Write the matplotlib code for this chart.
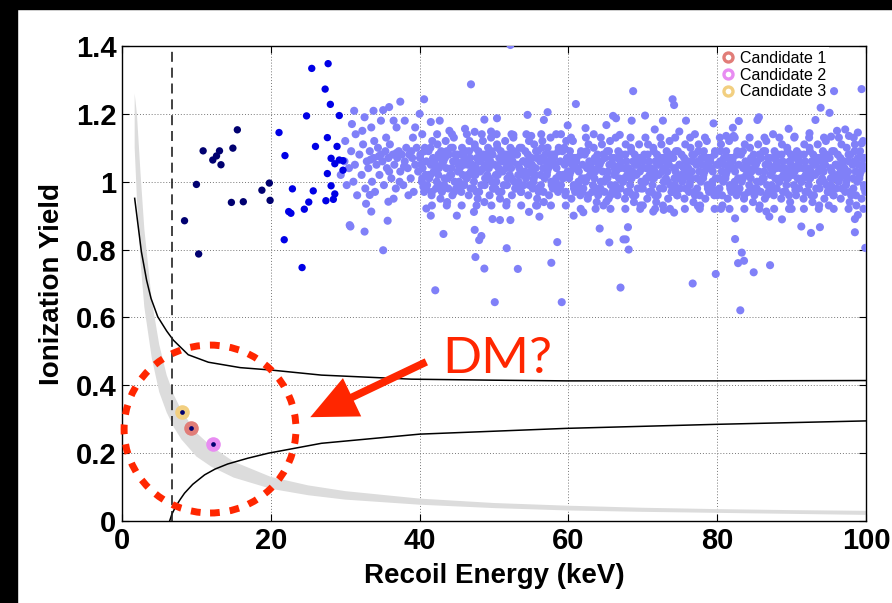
import numpy as np
import matplotlib.pyplot as plt
from matplotlib.patches import Ellipse, Rectangle, FancyArrowPatch
from matplotlib.lines import Line2D

plt.rcParams['font.family'] = ['Liberation Sans', 'DejaVu Sans']

# --- electron-recoil band (light blue) ---
light_pts = [
    # 29-40 keV, sparser part of the band
    (29.4,1.02),(29.9,1.06),(30.2,0.99),(30.5,1.04),(30.8,1.09),(31.1,1.00),(31.3,1.05),(31.6,0.96),
    (31.9,1.08),(32.2,1.02),(32.4,1.11),(32.7,0.98),(32.9,1.06),(30.0,1.12),(31.4,1.14),
    (33.1,1.04),(33.3,1.09),(33.6,1.00),(33.8,1.07),(34.0,0.97),(34.2,1.05),(34.4,1.10),(34.6,1.02),
    (34.8,1.08),(35.0,1.06),(35.2,0.99),(35.4,1.09),(35.6,1.04),(35.8,1.07),(36.0,1.11),(36.2,1.01),
    (36.4,1.08),(36.6,1.05),(36.8,0.98),(37.0,1.07),(37.2,1.09),(37.4,1.03),(37.6,1.08),(37.8,0.99),
    (38.0,1.06),(38.2,1.10),(38.4,1.04),(38.6,1.08),(38.8,1.01),(39.0,1.07),(39.2,0.97),(39.4,1.05),
    (39.6,1.10),(39.8,1.03),(37.3,1.00),(38.5,0.96),(39.1,1.13),(36.5,0.95),(35.5,1.13),(33.9,1.12),
    (34.5,1.075),(36.9,1.085),(38.9,1.09),(35.9,1.03),(33.4,1.065),(37.9,1.045),
    # 40-100 keV, dense core
    (40.1,1.08),(40.3,1.00),(40.4,1.04),(40.6,0.97),(40.7,1.10),(40.8,1.02),(40.9,1.06),(40.2,1.05),(40.5,0.985),(40.35,1.14),
    (41.0,0.99),(41.2,1.09),(41.3,1.01),(41.5,1.05),(41.6,0.96),(41.8,1.07),(41.9,1.03),(41.45,1.02),(41.7,1.12),(41.65,0.93),
    (42.1,1.05),(42.2,0.98),(42.4,1.11),(42.5,1.02),(42.7,1.07),(42.8,0.95),(42.9,1.09),(42.3,1.00),(42.6,1.04),(42.35,1.14),
    (43.0,0.97),(43.2,1.06),(43.3,0.99),(43.5,1.12),(43.6,1.04),(43.8,1.01),(43.9,1.08),(43.4,1.07),(43.7,0.94),(43.65,0.93),
    (44.1,1.02),(44.2,1.10),(44.4,0.96),(44.5,1.06),(44.7,1.00),(44.8,1.08),(44.9,0.98),(44.3,1.04),(44.6,1.13),(44.35,1.14),
    (45.1,1.08),(45.3,1.00),(45.4,1.04),(45.6,0.97),(45.7,1.10),(45.8,1.02),(45.9,1.06),(45.2,1.05),(45.5,0.985),(45.65,0.93),
    (46.0,0.99),(46.2,1.09),(46.3,1.01),(46.5,1.05),(46.6,0.96),(46.8,1.07),(46.9,1.03),(46.45,1.02),(46.7,1.12),(46.35,1.14),
    (47.1,1.05),(47.2,0.98),(47.4,1.11),(47.5,1.02),(47.7,1.07),(47.8,0.95),(47.9,1.09),(47.3,1.00),(47.6,1.04),(47.65,0.93),
    (48.0,0.97),(48.2,1.06),(48.3,0.99),(48.5,1.12),(48.6,1.04),(48.8,1.01),(48.9,1.08),(48.4,1.07),(48.7,0.94),(48.35,1.14),
    (49.1,1.02),(49.2,1.10),(49.4,0.96),(49.5,1.06),(49.7,1.00),(49.8,1.08),(49.9,0.98),(49.3,1.04),(49.6,1.13),(49.65,0.93),
    (50.1,1.05),(50.2,0.98),(50.4,1.11),(50.5,1.02),(50.7,1.07),(50.8,0.95),(50.9,1.09),(50.3,1.00),(50.6,1.04),(50.35,1.14),
    (51.0,0.97),(51.2,1.06),(51.3,0.99),(51.5,1.12),(51.6,1.04),(51.8,1.01),(51.9,1.08),(51.4,1.07),(51.7,0.94),(51.65,0.93),
    (52.1,1.02),(52.2,1.10),(52.4,0.96),(52.5,1.06),(52.7,1.00),(52.8,1.08),(52.9,0.98),(52.3,1.04),(52.6,1.13),(52.35,1.14),
    (53.1,1.08),(53.3,1.00),(53.4,1.04),(53.6,0.97),(53.7,1.10),(53.8,1.02),(53.9,1.06),(53.2,1.05),(53.5,0.985),(53.65,0.93),
    (54.0,0.99),(54.2,1.09),(54.3,1.01),(54.5,1.05),(54.6,0.96),(54.8,1.07),(54.9,1.03),(54.45,1.02),(54.7,1.12),(54.35,1.14),
    (55.1,1.05),(55.2,0.98),(55.4,1.11),(55.5,1.02),(55.7,1.07),(55.8,0.95),(55.9,1.09),(55.3,1.00),(55.6,1.04),(55.65,0.93),
    (56.0,0.97),(56.2,1.06),(56.3,0.99),(56.5,1.12),(56.6,1.04),(56.8,1.01),(56.9,1.08),(56.4,1.07),(56.7,0.94),(56.35,1.14),
    (57.1,1.02),(57.2,1.10),(57.4,0.96),(57.5,1.06),(57.7,1.00),(57.8,1.08),(57.9,0.98),(57.3,1.04),(57.6,1.13),(57.65,0.93),
    (58.1,1.08),(58.3,1.00),(58.4,1.04),(58.6,0.97),(58.7,1.10),(58.8,1.02),(58.9,1.06),(58.2,1.05),(58.5,0.985),(58.35,1.14),
    (59.0,0.99),(59.2,1.09),(59.3,1.01),(59.5,1.05),(59.6,0.96),(59.8,1.07),(59.9,1.03),(59.45,1.02),(59.7,1.12),(59.65,0.93),
    (60.1,1.01),(60.2,1.09),(60.4,0.95),(60.5,1.05),(60.7,0.99),(60.8,1.07),(60.9,0.97),(60.3,1.03),(60.6,1.12),(60.35,1.13),
    (61.1,1.07),(61.3,0.99),(61.4,1.03),(61.6,0.96),(61.7,1.09),(61.8,1.01),(61.9,1.05),(61.2,1.04),(61.5,0.975),(61.65,0.92),
    (62.0,0.98),(62.2,1.08),(62.3,1.00),(62.5,1.04),(62.6,0.95),(62.8,1.06),(62.9,1.02),(62.45,1.01),(62.7,1.11),(62.35,1.13),
    (63.1,1.04),(63.2,0.97),(63.4,1.10),(63.5,1.01),(63.7,1.06),(63.8,0.94),(63.9,1.08),(63.3,0.99),(63.6,1.03),(63.65,0.92),
    (64.0,0.96),(64.2,1.05),(64.3,0.98),(64.5,1.11),(64.6,1.03),(64.8,1.00),(64.9,1.07),(64.4,1.06),(64.7,0.93),(64.35,1.13),
    (65.1,1.01),(65.2,1.09),(65.4,0.95),(65.5,1.05),(65.7,0.99),(65.8,1.07),(65.9,0.97),(65.3,1.03),(65.6,1.12),(65.65,0.92),
    (66.1,1.07),(66.3,0.99),(66.4,1.03),(66.6,0.96),(66.7,1.09),(66.8,1.01),(66.9,1.05),(66.2,1.04),(66.5,0.975),(66.35,1.13),
    (67.0,0.98),(67.2,1.08),(67.3,1.00),(67.5,1.04),(67.6,0.95),(67.8,1.06),(67.9,1.02),(67.45,1.01),(67.7,1.11),(67.65,0.92),
    (68.1,1.04),(68.2,0.97),(68.4,1.10),(68.5,1.01),(68.7,1.06),(68.8,0.94),(68.9,1.08),(68.3,0.99),(68.6,1.03),(68.35,1.13),
    (69.0,0.96),(69.2,1.05),(69.3,0.98),(69.5,1.11),(69.6,1.03),(69.8,1.00),(69.9,1.07),(69.4,1.06),(69.7,0.93),(69.65,0.92),
    (70.0,0.98),(70.2,1.08),(70.3,1.00),(70.5,1.04),(70.6,0.95),(70.8,1.06),(70.9,1.02),(70.45,1.01),(70.7,1.11),(70.35,1.13),
    (71.1,1.04),(71.2,0.97),(71.4,1.10),(71.5,1.01),(71.7,1.06),(71.8,0.94),(71.9,1.08),(71.3,0.99),(71.6,1.03),(71.65,0.92),
    (72.0,0.96),(72.2,1.05),(72.3,0.98),(72.5,1.11),(72.6,1.03),(72.8,1.00),(72.9,1.07),(72.4,1.06),(72.7,0.93),(72.35,1.13),
    (73.1,1.01),(73.2,1.09),(73.4,0.95),(73.5,1.05),(73.7,0.99),(73.8,1.07),(73.9,0.97),(73.3,1.03),(73.6,1.12),(73.65,0.92),
    (74.1,1.07),(74.3,0.99),(74.4,1.03),(74.6,0.96),(74.7,1.09),(74.8,1.01),(74.9,1.05),(74.2,1.04),(74.5,0.975),(74.35,1.13),
    (75.0,0.98),(75.2,1.08),(75.3,1.00),(75.5,1.04),(75.6,0.95),(75.8,1.06),(75.9,1.02),(75.45,1.01),(75.7,1.11),(75.65,0.92),
    (76.1,1.04),(76.2,0.97),(76.4,1.10),(76.5,1.01),(76.7,1.06),(76.8,0.94),(76.9,1.08),(76.3,0.99),(76.6,1.03),(76.35,1.13),
    (77.0,0.96),(77.2,1.05),(77.3,0.98),(77.5,1.11),(77.6,1.03),(77.8,1.00),(77.9,1.07),(77.4,1.06),(77.7,0.93),(77.65,0.92),
    (78.1,1.01),(78.2,1.09),(78.4,0.95),(78.5,1.05),(78.7,0.99),(78.8,1.07),(78.9,0.97),(78.3,1.03),(78.6,1.12),(78.35,1.13),
    (79.1,1.07),(79.3,0.99),(79.4,1.03),(79.6,0.96),(79.7,1.09),(79.8,1.01),(79.9,1.05),(79.2,1.04),(79.5,0.975),(79.65,0.92),
    (80.0,0.96),(80.2,1.05),(80.3,0.98),(80.5,1.11),(80.6,1.03),(80.8,1.00),(80.9,1.07),(80.4,1.06),(80.7,0.93),(80.35,1.13),
    (81.1,1.01),(81.2,1.09),(81.4,0.95),(81.5,1.05),(81.7,0.99),(81.8,1.07),(81.9,0.97),(81.3,1.03),(81.6,1.12),(81.65,0.92),
    (82.1,1.07),(82.3,0.99),(82.4,1.03),(82.6,0.96),(82.7,1.09),(82.8,1.01),(82.9,1.05),(82.2,1.04),(82.5,0.975),(82.35,1.13),
    (83.0,0.98),(83.2,1.08),(83.3,1.00),(83.5,1.04),(83.6,0.95),(83.8,1.06),(83.9,1.02),(83.45,1.01),(83.7,1.11),(83.65,0.92),
    (84.1,1.04),(84.2,0.97),(84.4,1.10),(84.5,1.01),(84.7,1.06),(84.8,0.94),(84.9,1.08),(84.3,0.99),(84.6,1.03),(84.35,1.13),
    (85.0,0.96),(85.2,1.05),(85.3,0.98),(85.5,1.11),(85.6,1.03),(85.8,1.00),(85.9,1.07),(85.4,1.06),(85.7,0.93),(85.65,0.92),
    (86.1,1.01),(86.2,1.09),(86.4,0.95),(86.5,1.05),(86.7,0.99),(86.8,1.07),(86.9,0.97),(86.3,1.03),(86.6,1.12),(86.35,1.13),
    (87.1,1.07),(87.3,0.99),(87.4,1.03),(87.6,0.96),(87.7,1.09),(87.8,1.01),(87.9,1.05),(87.2,1.04),(87.5,0.975),(87.65,0.92),
    (88.0,0.98),(88.2,1.08),(88.3,1.00),(88.5,1.04),(88.6,0.95),(88.8,1.06),(88.9,1.02),(88.45,1.01),(88.7,1.11),(88.35,1.13),
    (89.1,1.04),(89.2,0.97),(89.4,1.10),(89.5,1.01),(89.7,1.06),(89.8,0.94),(89.9,1.08),(89.3,0.99),(89.6,1.03),(89.65,0.92),
    (90.1,1.07),(90.3,0.99),(90.4,1.03),(90.6,0.96),(90.7,1.09),(90.8,1.01),(90.9,1.05),(90.2,1.04),(90.5,0.975),(90.35,1.13),
    (91.0,0.98),(91.2,1.08),(91.3,1.00),(91.5,1.04),(91.6,0.95),(91.8,1.06),(91.9,1.02),(91.45,1.01),(91.7,1.11),(91.65,0.92),
    (92.1,1.04),(92.2,0.97),(92.4,1.10),(92.5,1.01),(92.7,1.06),(92.8,0.94),(92.9,1.08),(92.3,0.99),(92.6,1.03),(92.35,1.13),
    (93.0,0.96),(93.2,1.05),(93.3,0.98),(93.5,1.11),(93.6,1.03),(93.8,1.00),(93.9,1.07),(93.4,1.06),(93.7,0.93),(93.65,0.92),
    (94.1,1.01),(94.2,1.09),(94.4,0.95),(94.5,1.05),(94.7,0.99),(94.8,1.07),(94.9,0.97),(94.3,1.03),(94.6,1.12),(94.35,1.13),
    (95.1,1.07),(95.3,0.99),(95.4,1.03),(95.6,0.96),(95.7,1.09),(95.8,1.01),(95.9,1.05),(95.2,1.04),(95.5,0.975),(95.65,0.92),
    (96.0,0.98),(96.2,1.08),(96.3,1.00),(96.5,1.04),(96.6,0.95),(96.8,1.06),(96.9,1.02),(96.45,1.01),(96.7,1.11),(96.35,1.13),
    (97.1,1.04),(97.2,0.97),(97.4,1.10),(97.5,1.01),(97.7,1.06),(97.8,0.94),(97.9,1.08),(97.3,0.99),(97.6,1.03),(97.65,0.92),
    (98.0,0.96),(98.2,1.05),(98.3,0.98),(98.5,1.11),(98.6,1.03),(98.8,1.00),(98.9,1.07),(98.4,1.06),(98.7,0.93),(98.35,1.13),
    (99.1,1.01),(99.2,1.09),(99.4,0.95),(99.5,1.05),(99.7,0.99),(99.8,1.07),(99.9,0.97),(99.3,1.03),(99.6,1.12),(99.65,0.92),
    # outliers above the band
    (52.2,1.403),(46.9,1.287),(40.6,1.243),(37.4,1.236),(35.9,1.220),(35.1,1.211),(33.8,1.209),(31.2,1.209),
    (32.6,1.190),(30.9,1.170),(32.3,1.150),(33.5,1.16),(34.8,1.18),(36.5,1.18),(36.9,1.16),(38.0,1.18),
    (39.4,1.160),(40.0,1.20),(41.5,1.176),(42.7,1.180),(46.1,1.156),(47.4,1.147),(48.7,1.183),(49.6,1.148),
    (50.4,1.187),(52.6,1.138),(54.5,1.197),(55.0,1.135),(56.7,1.182),(57.2,1.205),(59.9,1.166),(61.0,1.229),
    (62.3,1.158),(63.4,1.140),(65.1,1.167),(66.0,1.194),(66.4,1.187),(66.9,1.138),(68.5,1.180),(68.7,1.267),
    (70.3,1.195),(71.6,1.154),(72.7,1.180),(74.0,1.243),(74.2,1.226),(74.9,1.148),(75.8,1.180),(79.5,1.172),
    (81.2,1.135),(82.1,1.159),(82.2,1.135),(82.9,1.179),(85.4,1.182),(85.6,1.19),(89.6,1.156),(90.4,1.133),
    (92.4,1.143),(93.2,1.182),(93.9,1.218),(95.1,1.203),(95.3,1.133),(95.7,1.267),(96.1,1.150),(97.2,1.154),
    (97.7,1.135),(98.9,1.145),(99.4,1.273),(99.4,1.113),(87.5,1.14),(77.0,1.14),(59.0,1.14),(44.0,1.15),
    # outliers below the band
    (30.6,0.872),(30.7,0.868),(32.6,0.853),(33.5,0.912),(32.8,0.935),(35.1,0.798),(35.7,0.885),(35.8,0.941),
    (33.3,0.961),(41.5,0.900),(40.9,0.921),(43.2,0.846),(42.1,0.680),(47.4,0.858),(48.3,0.840),(48.0,0.828),
    (47.5,0.778),(48.7,0.744),(50.1,0.645),(51.7,0.804),(53.2,0.743),(49.8,0.890),(50.8,0.887),(52.2,0.887),
    (47.3,0.911),(54.7,0.911),(56.1,0.897),(57.7,0.761),(59.1,0.645),(58.5,0.822),(60.7,0.900),(64.2,0.862),
    (65.5,0.821),(65.1,0.941),(68.0,0.866),(67.4,0.830),(67.7,0.830),(68.1,0.800),(67.0,0.688),(76.7,0.700),
    (79.8,0.728),(83.1,0.621),(82.8,0.760),(83.6,0.767),(83.3,0.791),(84.9,0.733),(87.1,0.754),(82.4,0.831),
    (82.4,0.892),(86.6,0.912),(87.0,0.897),(88.7,0.889),(91.3,0.868),(92.6,0.849),(93.8,0.866),(98.5,0.851),
    (98.5,0.890),(98.9,0.902),(99.9,0.805),(74.2,0.909),(71.4,0.912),(72.8,0.917),(77.4,0.928),(45.0,0.90),
    (55.8,0.93),(62.0,0.91),(70.0,0.93),(80.5,0.92),(90.0,0.92),(95.0,0.93),
]

# extra points in the solid middle of the band
core_pts = [
    (40.05,1.07),(40.35,1.01),(40.65,1.09),(40.85,0.98),(41.25,1.02),(41.45,1.10),(41.65,0.97),(41.95,1.06),
    (42.15,1.03),(42.55,1.08),(42.75,0.99),(42.95,1.05),(43.05,1.07),(43.35,1.01),(43.65,1.09),(43.85,0.98),
    (44.25,1.02),(44.45,1.10),(44.65,0.97),(44.95,1.06),(45.15,1.03),(45.55,1.08),(45.75,0.99),(45.95,1.05),
    (46.05,1.07),(46.35,1.01),(46.65,1.09),(46.85,0.98),(47.25,1.02),(47.45,1.10),(47.65,0.97),(47.95,1.06),
    (48.15,1.03),(48.55,1.08),(48.75,0.99),(48.95,1.05),(49.05,1.07),(49.35,1.01),(49.65,1.09),(49.85,0.98),
    (50.25,1.02),(50.45,1.10),(50.65,0.97),(50.95,1.06),(51.15,1.03),(51.55,1.08),(51.75,0.99),(51.95,1.05),
    (52.05,1.07),(52.35,1.01),(52.65,1.09),(52.85,0.98),(53.25,1.02),(53.45,1.10),(53.65,0.97),(53.95,1.06),
    (54.15,1.03),(54.55,1.08),(54.75,0.99),(54.95,1.05),(55.05,1.07),(55.35,1.01),(55.65,1.09),(55.85,0.98),
    (56.25,1.02),(56.45,1.10),(56.65,0.97),(56.95,1.06),(57.15,1.03),(57.55,1.08),(57.75,0.99),(57.95,1.05),
    (58.05,1.07),(58.35,1.01),(58.65,1.09),(58.85,0.98),(59.25,1.02),(59.45,1.10),(59.65,0.97),(59.95,1.06),
    (60.15,1.02),(60.55,1.07),(60.75,0.98),(60.95,1.04),(61.05,1.06),(61.35,1.00),(61.65,1.08),(61.85,0.97),
    (62.25,1.01),(62.45,1.09),(62.65,0.96),(62.95,1.05),(63.15,1.02),(63.55,1.07),(63.75,0.98),(63.95,1.04),
    (64.05,1.06),(64.35,1.00),(64.65,1.08),(64.85,0.97),(65.25,1.01),(65.45,1.09),(65.65,0.96),(65.95,1.05),
    (66.15,1.02),(66.55,1.07),(66.75,0.98),(66.95,1.04),(67.05,1.06),(67.35,1.00),(67.65,1.08),(67.85,0.97),
    (68.25,1.01),(68.45,1.09),(68.65,0.96),(68.95,1.05),(69.15,1.02),(69.55,1.07),(69.75,0.98),(69.95,1.04),
    (70.05,1.06),(70.35,1.00),(70.65,1.08),(70.85,0.97),(71.25,1.01),(71.45,1.09),(71.65,0.96),(71.95,1.05),
    (72.15,1.02),(72.55,1.07),(72.75,0.98),(72.95,1.04),(73.05,1.06),(73.35,1.00),(73.65,1.08),(73.85,0.97),
    (74.25,1.01),(74.45,1.09),(74.65,0.96),(74.95,1.05),(75.15,1.02),(75.55,1.07),(75.75,0.98),(75.95,1.04),
    (76.05,1.06),(76.35,1.00),(76.65,1.08),(76.85,0.97),(77.25,1.01),(77.45,1.09),(77.65,0.96),(77.95,1.05),
    (78.15,1.02),(78.55,1.07),(78.75,0.98),(78.95,1.04),(79.05,1.06),(79.35,1.00),(79.65,1.08),(79.85,0.97),
    (80.25,1.01),(80.45,1.09),(80.65,0.96),(80.95,1.05),(81.15,1.02),(81.55,1.07),(81.75,0.98),(81.95,1.04),
    (82.05,1.06),(82.35,1.00),(82.65,1.08),(82.85,0.97),(83.25,1.01),(83.45,1.09),(83.65,0.96),(83.95,1.05),
    (84.15,1.02),(84.55,1.07),(84.75,0.98),(84.95,1.04),(85.05,1.06),(85.35,1.00),(85.65,1.08),(85.85,0.97),
    (86.25,1.01),(86.45,1.09),(86.65,0.96),(86.95,1.05),(87.15,1.02),(87.55,1.07),(87.75,0.98),(87.95,1.04),
    (88.05,1.06),(88.35,1.00),(88.65,1.08),(88.85,0.97),(89.25,1.01),(89.45,1.09),(89.65,0.96),(89.95,1.05),
    (90.15,1.02),(90.55,1.07),(90.75,0.98),(90.95,1.04),(91.05,1.06),(91.35,1.00),(91.65,1.08),(91.85,0.97),
    (92.25,1.01),(92.45,1.09),(92.65,0.96),(92.95,1.05),(93.15,1.02),(93.55,1.07),(93.75,0.98),(93.95,1.04),
    (94.05,1.06),(94.35,1.00),(94.65,1.08),(94.85,0.97),(95.25,1.01),(95.45,1.09),(95.65,0.96),(95.95,1.05),
    (96.15,1.02),(96.55,1.07),(96.75,0.98),(96.95,1.04),(97.05,1.06),(97.35,1.00),(97.65,1.08),(97.85,0.97),
    (98.25,1.01),(98.45,1.09),(98.65,0.96),(98.95,1.05),(99.15,1.02),(99.55,1.07),(99.75,0.98),(99.95,1.04),
]

blue_x = [21.1, 21.9, 21.8, 22.9, 22.4, 22.7, 24.2, 24.5, 24.8, 25.1, 25.5, 25.7, 26.0, 27.3, 27.7,
          28.0, 27.6, 28.9, 29.2, 27.6, 28.1, 28.6, 28.1, 28.6, 28.4, 27.4, 29.2, 29.7, 29.7]
blue_y = [1.145, 1.077, 0.829, 0.979, 0.912, 0.907, 0.747, 0.919, 1.194, 0.940, 1.334, 0.973, 1.104, 1.273, 1.348,
          1.228, 1.130, 1.104, 1.195, 1.024, 1.069, 1.053, 0.988, 0.964, 0.948, 0.944, 1.064, 1.062, 1.034]

navy_x = [8.4, 10.3, 10.0, 10.9, 12.2, 12.7, 13.1, 13.3, 14.9, 15.5, 14.7, 16.3, 18.8, 19.8, 19.9]
navy_y = [0.885, 0.787, 0.992, 1.091, 1.064, 1.076, 1.091, 1.050, 1.099, 1.153, 0.939, 0.941, 0.975, 0.996, 0.945]

cand_x = [9.3, 12.2, 8.06]
cand_y = [0.274, 0.228, 0.321]
cand_labels = ['Candidate 1', 'Candidate 2', 'Candidate 3']
cand_colors = ['#e17d78', '#e88cf2', '#f2cf80']

# nuclear-recoil band edges
upper_x = [1.7, 2.6, 3.3, 3.9, 4.8, 6.0, 6.9, 8.9, 11.6, 15.9, 20.0, 26.8, 38.9, 50.0, 59.7, 80.0, 100.0]
upper_y = [0.951, 0.794, 0.710, 0.656, 0.602, 0.560, 0.533, 0.490, 0.468, 0.452, 0.445, 0.430, 0.418, 0.415, 0.413, 0.413, 0.414]
lower_x = [6.4, 6.7, 7.2, 7.8, 8.4, 9.5, 11.1, 12.5, 14.2, 16.9, 19.7, 26.8, 40.0, 59.7, 80.1, 100.0]
lower_y = [0.0, 0.020, 0.042, 0.063, 0.082, 0.108, 0.136, 0.153, 0.168, 0.185, 0.200, 0.229, 0.256, 0.273, 0.285, 0.295]

# ionization threshold band (grey)
band_x = [1.7, 2.0, 2.5, 3.0, 4.0, 5.0, 6.0, 7.0, 8.0, 10, 12, 15, 20, 25, 30, 40, 50, 60, 70, 80, 90, 100]
band_lo = [1.10, 0.95, 0.76, 0.63, 0.48, 0.38, 0.32, 0.275, 0.24, 0.19, 0.16, 0.128, 0.095, 0.076, 0.063,
           0.048, 0.038, 0.031, 0.027, 0.024, 0.021, 0.018]
band_hi = [1.26, 1.20, 1.02, 0.86, 0.65, 0.52, 0.43, 0.37, 0.325, 0.26, 0.22, 0.175, 0.13, 0.105, 0.088,
           0.066, 0.053, 0.045, 0.039, 0.035, 0.032, 0.030]

threshold_x = 6.75

x_ticks = [0, 20, 40, 60, 80, 100]
y_ticks = [0, 0.2, 0.4, 0.6, 0.8, 1.0, 1.2, 1.4]
y_tick_labels = ['0', '0.2', '0.4', '0.6', '0.8', '1', '1.2', '1.4']

red = '#ff2600'

fig = plt.figure(figsize=(8.92, 6.03), dpi=100)
fig.patches.append(Rectangle((0, 0), 17 / 892, 1, transform=fig.transFigure, color='black', zorder=-5))
fig.patches.append(Rectangle((0, 1 - 9 / 603), 1, 9 / 603, transform=fig.transFigure, color='black', zorder=-5))

ax = fig.add_axes([0.1368, 0.1360, 0.8341, 0.7877])
ax.set_axisbelow(True)

bx = np.array(band_x)
ax.fill(np.concatenate([bx, bx[::-1]]), np.concatenate([band_hi, band_lo[::-1]]),
        color='#dcdcdc', lw=0, zorder=1)
ax.plot(upper_x, upper_y, color='black', lw=1.1, zorder=2)
ax.plot(lower_x, lower_y, color='black', lw=1.1, zorder=2)
ax.plot([threshold_x, threshold_x], [0, 1.4], color='#222222', lw=1.2, dashes=(6, 3.5), zorder=2)

lp = np.array(light_pts + core_pts)
ax.scatter(lp[:, 0], lp[:, 1], s=34, color='#8080f8', edgecolors='none', zorder=3)
ax.scatter(blue_x, blue_y, s=28, color='#0000e6', edgecolors='none', zorder=4)
ax.scatter(navy_x, navy_y, s=28, color='#000070', edgecolors='none', zorder=4)

for x, y, c in zip(cand_x, cand_y, cand_colors):
    ax.plot(x, y, 'o', ms=10.5, mfc=c, mec='none', zorder=5)
    ax.plot(x, y, 'o', ms=3.4, mfc='#000070', mec='none', zorder=6)

handles = [Line2D([], [], marker='o', ls='none', ms=6.5, mfc='white', mec=c, mew=2.4) for c in cand_colors]
ax.legend(handles, cand_labels, loc='upper left', bbox_to_anchor=(0.801, 0.997), frameon=True,
          fancybox=False, edgecolor='none', facecolor='white', framealpha=1, fontsize=11.5,
          handlelength=0.8, handletextpad=0.35, labelspacing=0.12, borderpad=0.2, borderaxespad=0)

# the "DM?" annotation
ell = Ellipse((11.83, 0.271), 23.1, 0.495, fill=False, ec=red, lw=5, ls=(0, (1.4, 1.45)),
              clip_on=False, zorder=7)
ax.add_patch(ell)
arrow = FancyArrowPatch((40.9, 0.469), (25.3, 0.306), arrowstyle='-|>,head_length=2.4,head_width=1.1',
                        mutation_scale=10, lw=5.5, color=red, shrinkA=0, shrinkB=0,
                        joinstyle='miter', capstyle='butt', zorder=7)
ax.add_patch(arrow)
ax.text(43.1, 0.436, 'DM?', color=red, fontsize=37, family=['Lato', 'DejaVu Sans'],
        ha='left', va='baseline', zorder=7)

ax.set_xlim(0, 100)
ax.set_ylim(0, 1.4)
ax.set_xticks(x_ticks)
ax.set_yticks(y_ticks)
ax.set_yticklabels(y_tick_labels)
ax.grid(True, ls=(0, (1, 2)), color='#777777', lw=0.7)
ax.tick_params(direction='in', length=5, width=0.8, top=True, right=True, labelsize=21)
ax.tick_params(axis='x', pad=4)
ax.tick_params(axis='y', pad=4)
for lab in ax.get_xticklabels() + ax.get_yticklabels():
    lab.set_fontweight('bold')
for sp in ax.spines.values():
    sp.set_linewidth(1.0)

ax.set_xlabel('Recoil Energy (keV)', fontsize=20, fontweight='bold', labelpad=6)
ax.set_ylabel('Ionization Yield', fontsize=20, fontweight='bold', labelpad=8)

fig.savefig('out.png', dpi=100, facecolor='white')
